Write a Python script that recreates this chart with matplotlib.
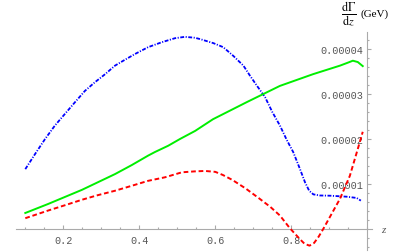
import matplotlib
matplotlib.use("Agg")
import matplotlib.pyplot as plt
import numpy as np
from matplotlib.ticker import FixedLocator, FuncFormatter

plt.rcParams['mathtext.fontset'] = 'stix'
plt.rcParams['lines.scale_dashes'] = False

# data (y in units of 1e-5 GeV)
blue_x = [0.100, 0.126, 0.152, 0.178, 0.2045, 0.231, 0.257, 0.283, 0.310, 0.336, 0.362,
          0.389, 0.423, 0.459, 0.494, 0.52, 0.546, 0.560, 0.595, 0.621, 0.647, 0.674,
          0.691, 0.709, 0.731, 0.750, 0.770, 0.788, 0.805, 0.822, 0.836, 0.847, 0.858,
          0.875, 0.902, 0.946, 0.972, 0.983]
blue_y = [1.33, 1.67, 2.00, 2.30, 2.56, 2.82, 3.07, 3.26, 3.44, 3.63, 3.76,
          3.89, 4.04, 4.15, 4.24, 4.27, 4.25, 4.22, 4.13, 4.04, 3.85, 3.63,
          3.41, 3.19, 2.93, 2.60, 2.30, 1.98, 1.71, 1.35, 1.04, 0.85, 0.77,
          0.745, 0.74, 0.718, 0.69, 0.63]

green_x = [0.10, 0.16, 0.249, 0.336, 0.38, 0.423, 0.441, 0.476, 0.507, 0.547, 0.594,
           0.683, 0.770, 0.857, 0.928, 0.950, 0.962, 0.975, 0.988]
green_y = [0.356, 0.556, 0.87, 1.22, 1.42, 1.63, 1.71, 1.85, 2.0, 2.18, 2.44,
           2.82, 3.18, 3.44, 3.63, 3.70, 3.74, 3.71, 3.62]

red_x = [0.10, 0.16, 0.205, 0.249, 0.29, 0.336, 0.38, 0.423, 0.468, 0.512, 0.545,
         0.573, 0.600, 0.620, 0.645, 0.680, 0.717, 0.745, 0.770, 0.796, 0.822,
         0.835, 0.848, 0.860, 0.872, 0.884, 0.905, 0.928, 0.954, 0.975, 0.988]
red_y = [0.24, 0.41, 0.53, 0.65, 0.75, 0.85, 0.96, 1.07, 1.15, 1.26, 1.28,
         1.29, 1.27, 1.20, 1.09, 0.90, 0.67, 0.49, 0.30, 0.02, -0.22,
         -0.33, -0.37, -0.31, -0.17, 0.0, 0.32, 0.67, 1.18, 1.78, 2.16]

x_major = [0.2, 0.4, 0.6, 0.8]
x_labels = ["0.2", "0.4", "0.6", "0.8"]
y_major = [1e-5, 2e-5, 3e-5, 4e-5]
y_labels = ["0.00001", "0.00002", "0.00003", "0.00004"]

scale = 1e-5
fig = plt.figure(figsize=(4.08, 2.53), dpi=100)
ax = fig.add_axes([0, 0, 1, 1])
ax.set_xlim(0.03342, 1.1071)
ax.set_ylim(-0.511e-5, 5.111e-5)
ax.patch.set_alpha(0)

ax.plot(blue_x, np.array(blue_y) * scale, color='#0000ff', lw=1.3,
        dashes=(2.8, 1.1, 0.8, 1.1), solid_joinstyle='round')
ax.plot(green_x, np.array(green_y) * scale, color='#00ee00', lw=1.4,
        solid_joinstyle='round')
ax.plot(red_x, np.array(red_y) * scale, color='#ff0000', lw=1.4, dashes=(3.4, 2.0))

axcol = '#aaaaaa'
for s in ['top', 'right']:
    ax.spines[s].set_visible(False)
ax.spines['left'].set_position(('data', 1.0))
ax.spines['bottom'].set_position(('data', 0.0))
ax.spines['left'].set_bounds(-0.47e-5, 4.38e-5)
ax.spines['bottom'].set_bounds(0.0755, 1.012)
for s in ['left', 'bottom']:
    ax.spines[s].set_color(axcol)
    ax.spines[s].set_linewidth(0.8)
    ax.spines[s].set_zorder(0)

ax.xaxis.set_major_locator(FixedLocator(x_major))
ax.xaxis.set_major_formatter(FuncFormatter(
    lambda v, p: x_labels[x_major.index(round(v, 2))] if round(v, 2) in x_major else ""))
xminor = [m for m in np.arange(0.1, 1.001, 0.05) if min(abs(m - t) for t in x_major) > 1e-6]
ax.xaxis.set_minor_locator(FixedLocator(xminor))
ax.yaxis.set_major_locator(FixedLocator(y_major))
ax.yaxis.set_major_formatter(FuncFormatter(
    lambda v, p: y_labels[int(round(v * 1e5)) - 1] if 1 <= round(v * 1e5) <= 4 else ""))
yminor = [m * 1e-5 for m in np.arange(-0.4, 4.21, 0.2)
          if min(abs(m - t * 1e5) for t in y_major) > 1e-6 and abs(m) > 1e-6]
ax.yaxis.set_minor_locator(FixedLocator(yminor))

ax.tick_params(which='both', direction='in', color=axcol, width=0.8,
               labelcolor='#555555', labelsize=7.3)
ax.tick_params(which='major', length=3.0)
ax.tick_params(which='minor', length=1.6)
ax.tick_params(axis='y', pad=3)
ax.tick_params(axis='x', pad=4)
for lab in ax.get_xticklabels() + ax.get_yticklabels():
    lab.set_family('Liberation Mono')

ax.text(1.042, 0, 'z', fontsize=8, style='italic', family='Liberation Serif',
        color='#555555', ha='center', va='center')
ax.text(0.951, 4.80e-5, r'$\frac{\mathrm{d}\Gamma}{\mathrm{d}z}$', fontsize=12.5,
        ha='center', va='center')
ax.text(0.9808, 4.80e-5, '(GeV)', fontsize=8, family='Liberation Serif',
        ha='left', va='center')

fig.savefig('out.png', dpi=100)
